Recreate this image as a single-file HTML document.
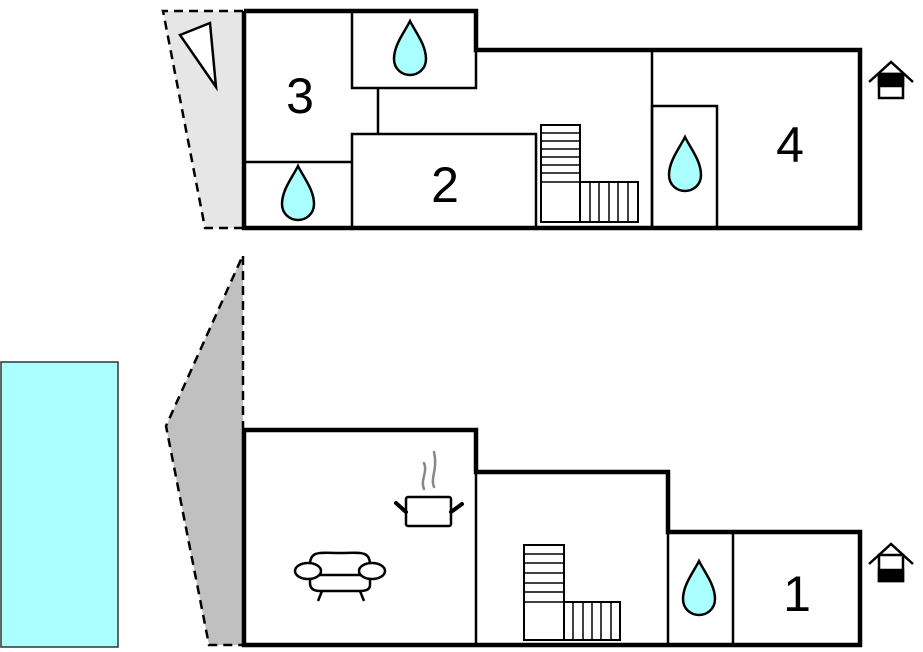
<!DOCTYPE html>
<html><head><meta charset="utf-8"><style>html,body{margin:0;padding:0;background:#fff}svg{display:block}</style></head>
<body>
<svg width="923" height="652" viewBox="0 0 923 652" xmlns="http://www.w3.org/2000/svg">
<defs>
<path id="drop" d="M0,0 C-6,12 -16,24 -16,38 C-16,48 -8,54 0,54 C8,54 16,48 16,38 C16,24 6,12 0,0 Z" fill="#aaffff" stroke="#000" stroke-width="2.5"/>
</defs>
<!-- top terrace -->
<polygon points="163,11 243,11 243,228 205,228" fill="#e6e6e6"/>
<polyline points="243,11 163,11 205,228 243,228" fill="none" stroke="#000" stroke-width="2.5" stroke-dasharray="9,6"/>
<polygon points="180,35 210,23 216,87" fill="#fff" stroke="#000" stroke-width="2.5"/>
<!-- lower terrace -->
<polygon points="243,255 166,426 209,645 243,645" fill="#c0c0c0"/>
<polyline points="243,430 243,255 166,426 209,645 243,645" fill="none" stroke="#000" stroke-width="2.5" stroke-dasharray="9,6"/>
<!-- pool -->
<rect x="1" y="362" width="117" height="285" fill="#aaffff" stroke="#333" stroke-width="1.5"/>
<!-- top floor interior -->
<g stroke="#000" stroke-width="2.5" fill="none">
<rect x="352" y="11" width="124" height="77"/>
<line x1="378" y1="88" x2="378" y2="134"/>
<rect x="352" y="134" width="184" height="94"/>
<line x1="244" y1="162" x2="352" y2="162"/>
<line x1="652" y1="50" x2="652" y2="228"/>
<rect x="652" y="106" width="65" height="122"/>
</g>
<g stroke="#000" stroke-width="2" fill="#fff">
<rect x="541" y="125" width="39" height="97"/>
<rect x="580" y="182" width="58" height="40"/>
</g>
<g stroke="#000" stroke-width="1.5">
<line x1="541" y1="133" x2="580" y2="133"/><line x1="541" y1="141" x2="580" y2="141"/><line x1="541" y1="149" x2="580" y2="149"/><line x1="541" y1="157" x2="580" y2="157"/><line x1="541" y1="165" x2="580" y2="165"/><line x1="541" y1="173" x2="580" y2="173"/><line x1="541" y1="182" x2="580" y2="182"/>
<line x1="590" y1="182" x2="590" y2="222"/><line x1="599" y1="182" x2="599" y2="222"/><line x1="609" y1="182" x2="609" y2="222"/><line x1="618" y1="182" x2="618" y2="222"/><line x1="628" y1="182" x2="628" y2="222"/>
</g>
<polyline points="244,11 476,11 476,50 860,50 860,228 244,228 244,11" fill="none" stroke="#000" stroke-width="4.5"/>
<use href="#drop" x="410" y="21"/>
<use href="#drop" x="298" y="166"/>
<use href="#drop" x="685" y="137"/>
<g font-family="Liberation Sans, sans-serif" font-size="50" text-anchor="middle" fill="#000">
<text x="300" y="113">3</text>
<text x="445" y="202">2</text>
<text x="790" y="162">4</text>
<text x="797" y="611">1</text>
</g>
<!-- lower floor -->
<g stroke="#000" stroke-width="2.5">
<line x1="476" y1="472" x2="476" y2="645"/>
<line x1="668" y1="532" x2="668" y2="645"/>
<line x1="733" y1="532" x2="733" y2="645"/>
</g>
<g stroke="#000" stroke-width="2" fill="#fff">
<rect x="524" y="545" width="40" height="95"/>
<rect x="564" y="602" width="56" height="38"/>
</g>
<g stroke="#000" stroke-width="1.5">
<line x1="524" y1="554" x2="564" y2="554"/><line x1="524" y1="563" x2="564" y2="563"/><line x1="524" y1="573" x2="564" y2="573"/><line x1="524" y1="583" x2="564" y2="583"/><line x1="524" y1="592" x2="564" y2="592"/><line x1="524" y1="602" x2="564" y2="602"/>
<line x1="573" y1="602" x2="573" y2="640"/><line x1="583" y1="602" x2="583" y2="640"/><line x1="592" y1="602" x2="592" y2="640"/><line x1="601" y1="602" x2="601" y2="640"/><line x1="611" y1="602" x2="611" y2="640"/>
</g>
<polyline points="244,430 476,430 476,472 668,472 668,532 860,532 860,645 244,645 244,430" fill="none" stroke="#000" stroke-width="4.5"/>
<use href="#drop" x="699" y="561"/>
<!-- pot -->
<g fill="none" stroke-linecap="round">
<path d="M424,489 C420,480 428,472 424,463 M434,487 C430,478 438,470 434,452" stroke="#888" stroke-width="2.5"/>
<rect x="406" y="497" width="45" height="29" rx="2" fill="#fff" stroke="#000" stroke-width="2.5"/>
<line x1="396" y1="503" x2="406" y2="512" stroke="#000" stroke-width="4"/>
<line x1="451" y1="512" x2="462" y2="504" stroke="#000" stroke-width="4"/>
</g>
<!-- sofa -->
<g fill="#fff" stroke="#000" stroke-width="2.5">
<path d="M310,565 C310,550 320,553 340,553 C360,553 370,550 370,565 L370,585 C370,590 365,591 360,591 L320,591 C313,591 310,588 310,583 Z"/>
<line x1="312" y1="575" x2="368" y2="575"/>
<ellipse cx="308" cy="571" rx="13" ry="8"/>
<ellipse cx="372" cy="571" rx="13" ry="8"/>
<line x1="322" y1="591" x2="318" y2="601"/>
<line x1="360" y1="591" x2="364" y2="601"/>
</g>
<!-- house icons -->
<g stroke="#000" stroke-width="2.5" fill="none">
<polyline points="869,82 891,62 913,82"/>
<rect x="879" y="74" width="24" height="24" fill="#fff"/>
<rect x="879" y="74" width="24" height="12" fill="#000"/>
<polyline points="869,564 891,544 913,564"/>
<rect x="879" y="555" width="24" height="26" fill="#fff"/>
<rect x="879" y="570" width="24" height="11" fill="#000"/>
</g>
</svg>
</body></html>
